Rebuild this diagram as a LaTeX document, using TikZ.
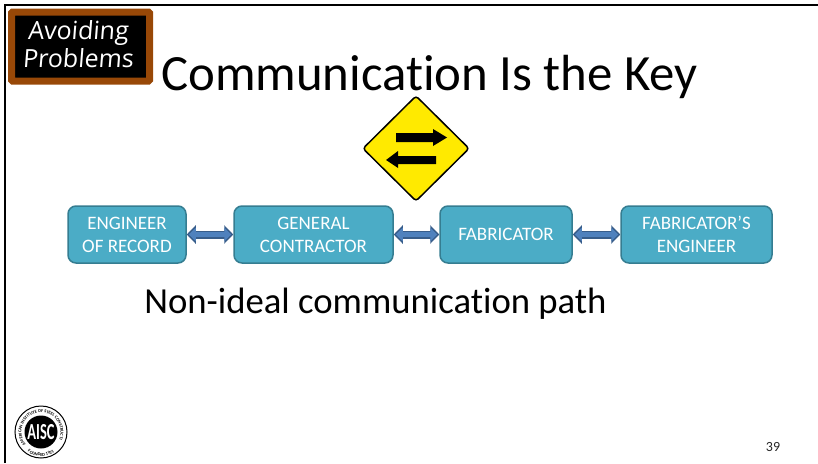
\documentclass[tikz,border=0pt]{standalone}
\usepackage{fontspec}
\setmainfont[Ligatures=NoCommon]{Carlito}
\newfontfamily\boardfont[FakeSlant=0.08]{Open Sans}
\usepackage{xcolor}
\usetikzlibrary{arrows.meta,decorations.text}
\definecolor{boxfill}{HTML}{4BACC6}
\definecolor{boxline}{HTML}{357D91}
\definecolor{arrowfill}{HTML}{4F81BD}
\definecolor{arrowline}{HTML}{385D8A}
\definecolor{boardbrown}{HTML}{984807}
\definecolor{signyellow}{HTML}{FFEA00}
\tikzset{
	flowbox/.style = {draw = boxline, fill = boxfill, line width = 1.5pt, rounded corners = 8pt, text = white, align = center, minimum height = 57pt, inner sep = 0pt, font = \fontsize{19}{23}\selectfont},
	linkarrow/.style = {draw = arrowline, line width = 8pt, {Triangle[length = 9pt, width = 18pt]}-{Triangle[length = 9pt, width = 18pt]}, postaction = {draw = arrowfill, line width = 5pt, shorten > = 2pt, shorten < = 2pt, {Triangle[length = 7pt, width = 13pt]}-{Triangle[length = 7pt, width = 13pt]}}}
}
\begin{document}
\begin{tikzpicture}[x = 1pt, y = -1pt]
	\useasboundingbox (0,0) rectangle (818,463);
	\draw[line width = 2pt] (5,463) -- (5,5) -- (818,5);
	\filldraw[draw = boardbrown, fill = black, rounded corners = 1pt, line width = 7pt] (11.5,12) rectangle (149.5,81);
	\node[inner sep = 0pt, text = white, align = center, font = \fontsize{25}{28}\selectfont\boardfont] (board) at (78,44.5) {Avoiding\\Problems};
	\node[font = \fontsize{50.8}{60}\selectfont] (title) at (429.5,76.5) {Communication Is the Key};
	\filldraw[fill = signyellow, draw = black, line width = 1.5pt, rounded corners = 3pt] (416,96) -- (469,148.5) -- (416,201) -- (363,148.5) -- cycle;
	\fill (396,133) -- (433,133) -- (433,129) -- (447,137.5) -- (433,146) -- (433,142) -- (396,142) -- cycle;
	\fill (436,156) -- (398,156) -- (398,151) -- (386,160) -- (398,168) -- (398,164) -- (436,164) -- cycle;
	\node[flowbox, minimum width = 118pt] (eor) at (127,234.5) {ENGINEER\\OF RECORD};
	\node[flowbox, minimum width = 159pt] (gc) at (313.5,234.5) {GENERAL\\CONTRACTOR};
	\node[flowbox, minimum width = 132pt] (fab) at (506,234.5) {FABRICATOR};
	\node[flowbox, minimum width = 151pt] (fe) at (696.5,234.5) {FABRICATOR’S\\ENGINEER};
	\draw[linkarrow] (eor) -- (gc);
	\draw[linkarrow] (gc) -- (fab);
	\draw[linkarrow] (fab) -- (fe);
	\node[font = \fontsize{36.7}{44}\selectfont] (path) at (375.5,304) {Non-ideal communication path};
	\begin{scope}[shift = {(41,432)}, y = 1pt]
		\draw[line width = 1pt] (0,0) circle (26);
		\fill (0,0) circle (16.5);
		\path[decorate, decoration = {text along path, text align = center, text = {|\fontsize{4.4}{4.4}\selectfont\bfseries|AMERICAN INSTITUTE OF STEEL CONSTRUCTION}}] (205:19.5) arc (205:-25:19.5);
		\path[decorate, decoration = {text along path, text align = center, text = {|\fontsize{4.4}{4.4}\selectfont\bfseries|FOUNDED 1921}}] (225:24) arc (225:315:24);
		\node[text = white, inner sep = 0pt, font = \fontsize{17}{17}\selectfont\bfseries] (aisc) at (0,0) {\scalebox{0.85}[1.35]{AISC}};
	\end{scope}
	\node[font = \fontsize{14}{16}\selectfont, text = black!85] (pagenum) at (773,447) {39};
\end{tikzpicture}
\end{document}
